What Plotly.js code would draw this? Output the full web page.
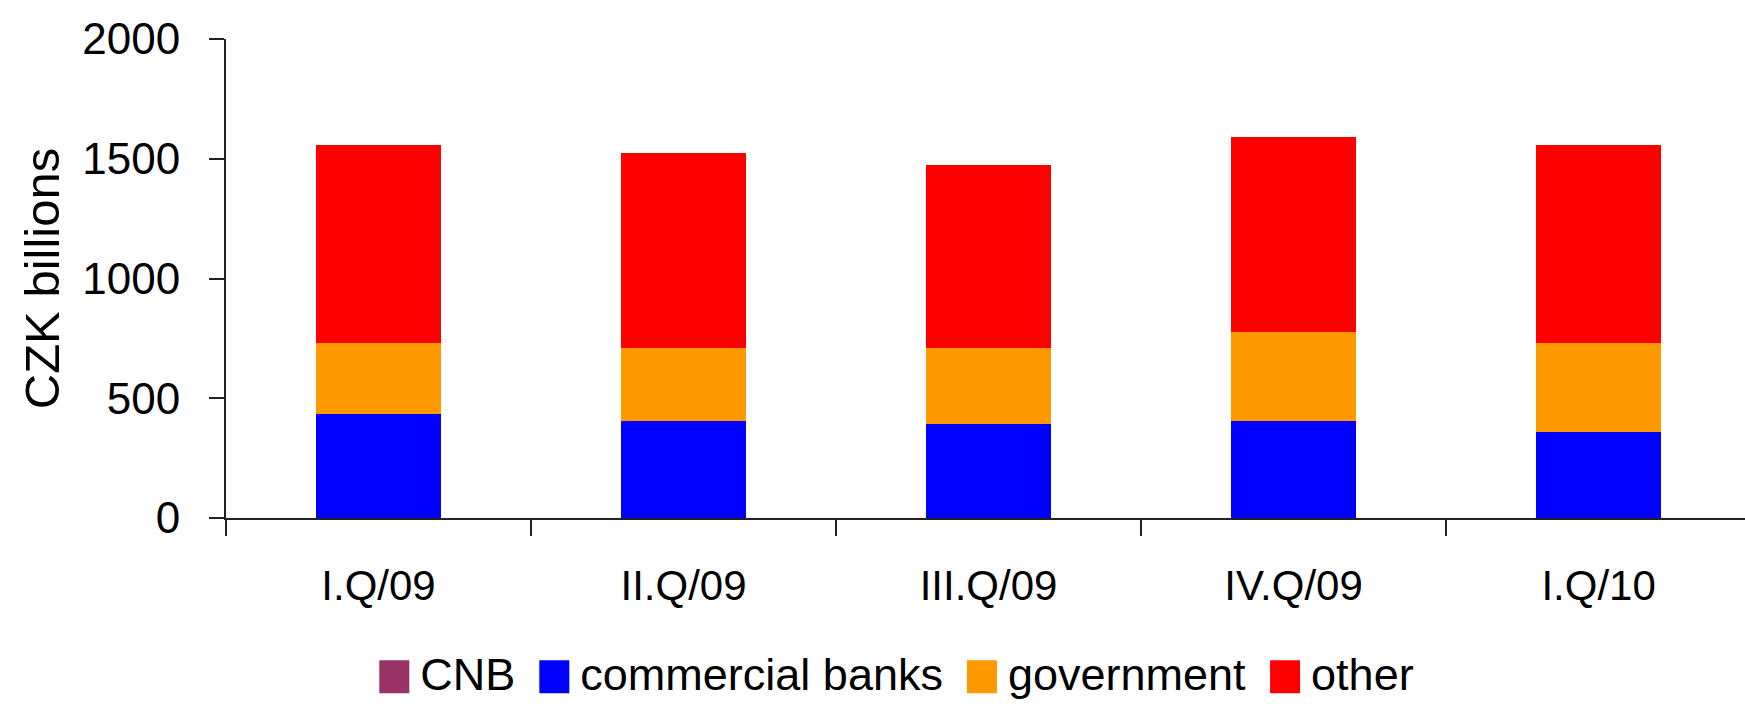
<!DOCTYPE html>
<html>
<head>
<meta charset="utf-8">
<script src="https://cdn.plot.ly/plotly-3.0.1.min.js"></script>
<style>html,body{margin:0;padding:0;background:#fff;}#chart{width:1745px;height:704px;}</style>
</head>
<body>
<div id="chart"></div>
<script>
const categories = ["I.Q/09", "II.Q/09", "III.Q/09", "IV.Q/09", "I.Q/10"];
const cnb = [0, 0, 0, 0, 0];
const commercialBanks = [436, 406, 394, 406, 361];
const government = [294, 302, 314, 369, 369];
const other = [827, 818, 764, 815, 827];
const yTicks = [0, 500, 1000, 1500, 2000];

const FONT = "Liberation Sans, Arial, sans-serif";

const traces = [
  {name: "CNB", x: categories, y: cnb, type: "bar", marker: {color: "#993366"}},
  {name: "commercial banks", x: categories, y: commercialBanks, type: "bar", marker: {color: "#0000FF"}},
  {name: "government", x: categories, y: government, type: "bar", marker: {color: "#FF9900"}},
  {name: "other", x: categories, y: other, type: "bar", marker: {color: "#FF0000"}}
];

const layout = {
  width: 1745,
  height: 704,
  barmode: "stack",
  bargap: 0.59,
  paper_bgcolor: "#ffffff",
  plot_bgcolor: "#ffffff",
  font: {family: FONT, size: 44, color: "#000000"},
  margin: {l: 226, r: 0, t: 39, b: 186, pad: 0, autoexpand: false},
  showlegend: true,
  legend: {
    orientation: "h",
    x: 0.437, xanchor: "center",
    y: -0.3236, yanchor: "middle",
    itemwidth: 50,
    font: {family: FONT, size: 45, color: "#000000"},
    traceorder: "normal",
    itemclick: false,
    bgcolor: "rgba(0,0,0,0)"
  },
  xaxis: {
    type: "category",
    range: [-0.5, 4.48],
    showline: true, linecolor: "#222222", linewidth: 2,
    ticks: "outside", ticklen: 16, tickwidth: 2, tickcolor: "#222222",
    tickson: "boundaries",
    ticklabelstandoff: 30,
    showgrid: false, zeroline: false,
    tickfont: {family: FONT, size: 42, color: "#000000"},
    fixedrange: true
  },
  yaxis: {
    range: [0, 2000],
    tickvals: yTicks,
    ticktext: yTicks.map(String),
    showline: true, linecolor: "#222222", linewidth: 2,
    ticks: "outside", ticklen: 15, tickwidth: 2, tickcolor: "#222222",
    ticklabelstandoff: 20,
    showgrid: false, zeroline: false,
    tickfont: {family: FONT, size: 44, color: "#000000"},
    title: {text: "CZK billions", font: {family: FONT, size: 49, color: "#000000"}, standoff: 7},
    automargin: false,
    fixedrange: true
  }
};

Plotly.newPlot("chart", traces, layout, {displayModeBar: false, staticPlot: true}).then(function (gd) {
  gd.querySelectorAll(".legend .traces").forEach(function (g) {
    const p = g.querySelector(".legendpoints path");
    const txt = g.querySelector("text.legendtext");
    if (!p || !txt) return;
    const t0 = p.getAttribute("transform") || "";
    const sc = " scale(2.5,2.75)";
    p.setAttribute("transform", t0 + sc);
    const pr = p.getBoundingClientRect();
    const tr = txt.getBoundingClientRect();
    const dx = (tr.left - 11) - pr.right;
    p.setAttribute("transform", t0 + " translate(" + dx + ",4)" + sc);
  });
});
</script>
</body>
</html>
